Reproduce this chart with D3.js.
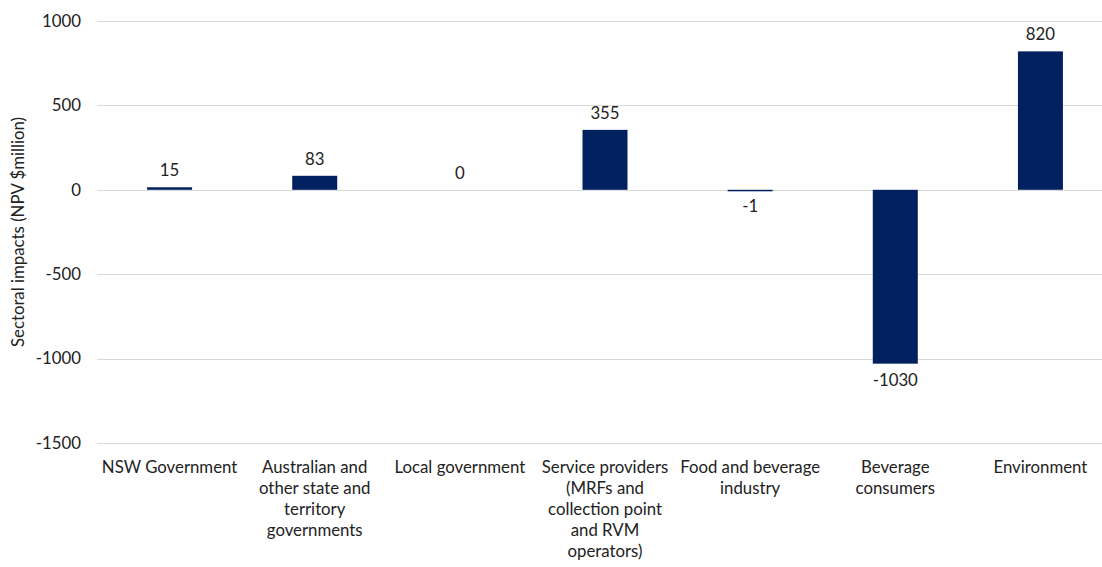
<!DOCTYPE html>
<html>
<head>
<meta charset="utf-8">
<script src="https://cdn.jsdelivr.net/npm/d3@7"></script>
<style>
  body { margin: 0; background: #fff; }
  text { font-family: Lato, "Open Sans", sans-serif; fill: #222; }
</style>
</head>
<body>
<svg width="1102" height="567"></svg>
<script>
var categories = [
  "NSW Government",
  "Australian and|other state and|territory|governments",
  "Local government",
  "Service providers|(MRFs and|collection point|and RVM|operators)",
  "Food and beverage|industry",
  "Beverage|consumers",
  "Environment"
];
var values = [15, 83, 0, 355, -1, -1030, 820];
var yTicks = [1000, 500, 0, -500, -1000, -1500];

var plotLeft = 97, plotRight = 1113, plotTop = 21, plotBottom = 443;
var fontSize = '16.8px';

var svg = d3.select('svg');

var x = d3.scaleBand()
  .domain(categories)
  .range([plotLeft, plotRight])
  .paddingInner(0.69)
  .paddingOuter(0.345);

var y = d3.scaleLinear()
  .domain([-1500, 1000])
  .range([plotBottom, plotTop]);

// gridlines
svg.append('g').selectAll('line')
  .data(yTicks)
  .enter().append('line')
  .attr('x1', plotLeft)
  .attr('x2', 1102)
  .attr('y1', function(d){ return Math.round(y(d)) + 0.5; })
  .attr('y2', function(d){ return Math.round(y(d)) + 0.5; })
  .attr('stroke', '#d9d9d9')
  .attr('stroke-width', 1);

// y axis labels (plain hyphen minus like the original)
var yAxis = d3.axisLeft(y).tickValues(yTicks).tickSize(0).tickPadding(16)
  .tickFormat(function(d){ return String(d); });
var gy = svg.append('g')
  .attr('transform', 'translate(' + plotLeft + ',0)')
  .call(yAxis);
gy.select('.domain').remove();
gy.selectAll('text')
  .style('font-family', 'Lato, sans-serif')
  .style('font-size', fontSize)
  .attr('fill', '#222');

// bars
svg.append('g').selectAll('rect')
  .data(values)
  .enter().append('rect')
  .attr('x', function(d, i){ return x(categories[i]); })
  .attr('width', x.bandwidth())
  .attr('y', function(d){ return y(Math.max(0, d)); })
  .attr('height', function(d){ return Math.max(Math.abs(y(d) - y(0)), d === 0 ? 0 : 1.5); })
  .attr('fill', '#002060');

// value labels
svg.append('g').selectAll('text')
  .data(values)
  .enter().append('text')
  .attr('x', function(d, i){ return x(categories[i]) + x.bandwidth() / 2; })
  .attr('y', function(d){
    return d >= 0 ? y(d) - 11 : y(d) + 22;
  })
  .attr('text-anchor', 'middle')
  .style('font-size', fontSize)
  .text(function(d){ return d; });

// category labels
var cat = svg.append('g').selectAll('text')
  .data(categories)
  .enter().append('text')
  .attr('x', function(d){ return x(d) + x.bandwidth() / 2; })
  .attr('y', 473)
  .attr('text-anchor', 'middle')
  .style('font-size', fontSize);
cat.each(function(d){
  var t = d3.select(this);
  d.split('|').forEach(function(line, i){
    t.append('tspan')
      .attr('x', t.attr('x'))
      .attr('dy', i === 0 ? 0 : 21)
      .text(line);
  });
});

// y axis title
svg.append('text')
  .attr('transform', 'translate(24,' + ((plotTop + plotBottom) / 2) + ') rotate(-90)')
  .attr('text-anchor', 'middle')
  .style('font-size', fontSize)
  .text('Sectoral impacts (NPV $million)');
</script>
</body>
</html>
